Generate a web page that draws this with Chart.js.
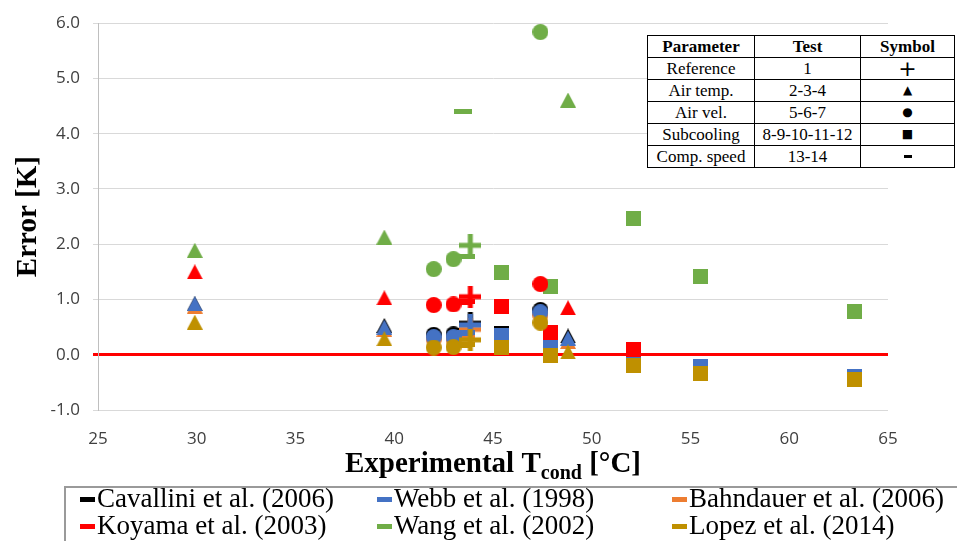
<!DOCTYPE html>
<html>
<head>
<meta charset="utf-8">
<script src="https://cdn.jsdelivr.net/npm/chart.js@4.4.1/dist/chart.umd.min.js"></script>
<style>
  html, body { margin: 0; padding: 0; background: #fff; }
  #wrap { position: relative; width: 957px; height: 541px; overflow: hidden; }
  #chart { position: absolute; left: 0; top: 0; }
  #param { position: absolute; left: 647px; top: 35px; border-collapse: collapse; background: #fff;
           font-family: "Liberation Serif", serif; font-size: 17px; color: #000; }
  #param td, #param th { border: 1px solid #000; padding: 0; height: 21px; line-height: 21px; text-align: center; }
  #param th { font-weight: bold; font-size: 17px; }
  #param td.sym { font-family: "DejaVu Sans", sans-serif; font-size: 12px; }
  #param td.sym.plus { font-size: 22px; }
  #param td.sym .dash { display: inline-block; width: 8px; height: 3px; background: #000; vertical-align: middle; }
  #legendBox { position: absolute; left: 64px; top: 486px; width: 910px; height: 70px;
               border: 2px solid #9a9a9a; box-sizing: border-box; }
  .item { position: absolute; white-space: nowrap; font-family: "Liberation Serif", serif;
          font-size: 27px; line-height: 28px; color: #000; }
  .item i { display: inline-block; width: 15px; height: 5px; vertical-align: middle; margin-right: 2px; position: relative; top: -1px; }
</style>
</head>
<body>
<div id="wrap">
  <canvas id="chart" width="957" height="541"></canvas>
  <table id="param"></table>
  <div id="legendBox"></div>
</div>
<script>
// condensing temperature of each test, and which symbol it gets
const testTcond  = [29.9, 39.5, 42.0, 43.0, 43.85, 43.5, 43.65, 45.45, 47.4, 47.9, 48.8, 52.1, 55.5, 63.3];
const testSymbol = ["triangle", "triangle", "circle", "circle", "plus", "minus", "minus",
                    "square", "circle", "square", "triangle", "square", "square", "square"];

// error [K] of each correlation, same order as testTcond
const cavallini = [0.92, 0.53, 0.36, 0.37, 0.57, 0.42, 0.44, 0.39, 0.81, 0.19, 0.34, -0.12, -0.22, -0.39];
const webb      = [0.92, 0.50, 0.32, 0.32, 0.54, 0.38, 0.40, 0.35, 0.77, 0.15, 0.30, -0.12, -0.22, -0.39];
const bahndauer = [0.88, 0.46, 0.28, 0.28, 0.46, 0.33, 0.35, 0.30, 0.72, 0.10, 0.24, -0.15, -0.26, -0.42];
const koyama    = [1.50, 1.03, 0.90, 0.91, 1.05, 0.95, 0.97, 0.88, 1.28, 0.40, 0.85, 0.09, -0.34, -0.44];
const wang      = [1.89, 2.13, 1.55, 1.73, 1.98, 4.40, 1.78, 1.48, 5.84, 1.24, 4.61, 2.47, 1.42, 0.79];
const lopez     = [0.59, 0.29, 0.13, 0.14, 0.27, 0.16, 0.19, 0.13, 0.58, -0.02, 0.05, -0.20, -0.34, -0.44];

const seriesNames  = ["Cavallini et al. (2006)", "Webb et al. (1998)", "Bahndauer et al. (2006)",
                      "Koyama et al. (2003)", "Wang et al. (2002)", "Lopez et al. (2014)"];
const seriesValues = [cavallini, webb, bahndauer, koyama, wang, lopez];
const seriesColors = ["#000000", "#4472C4", "#ED7D31", "#FF0000", "#70AD47", "#BF9000"];
const seriesLayer  = [5, 3, 4, 1, 2, 0];   // lower = drawn on top

const xTicks = [25, 30, 35, 40, 45, 50, 55, 60, 65];
const yTicks = [-1, 0, 1, 2, 3, 4, 5, 6];

const tableHead = ["Parameter", "Test", "Symbol"];
const tableRows = [
  ["Reference", "1", "+"],
  ["Air temp.", "2-3-4", "▲"],
  ["Air vel.", "5-6-7", "●"],
  ["Subcooling", "8-9-10-11-12", "■"],
  ["Comp. speed", "13-14", "-"]
];

// little bitmaps for the Excel-like markers
function marker(shape, color) {
  const size = { plus: [22, 22], minus: [18, 5], triangle: [16, 15], circle: [16, 16], square: [15, 15] }[shape];
  const c = document.createElement("canvas");
  c.width = size[0];
  c.height = size[1];
  const g = c.getContext("2d");
  const w = c.width, h = c.height;
  g.fillStyle = color;
  if (shape === "circle") {
    g.beginPath(); g.arc(w / 2, h / 2, w / 2, 0, Math.PI * 2); g.fill();
  } else if (shape === "triangle") {
    g.beginPath(); g.moveTo(w / 2, 0); g.lineTo(w, h); g.lineTo(0, h); g.closePath(); g.fill();
  } else if (shape === "plus") {
    g.fillRect(0, (h - 5) / 2, w, 5);
    g.fillRect((w - 5) / 2, 0, 5, h);
  } else {
    g.fillRect(0, 0, w, h);
  }
  return c;
}

const datasets = seriesNames.map((name, i) => ({
  label: name,
  data: testTcond.map((t, k) => ({ x: t, y: seriesValues[i][k] })),
  pointStyle: testSymbol.map(s => marker(s, seriesColors[i])),
  pointRadius: 8,
  backgroundColor: seriesColors[i],
  borderColor: seriesColors[i],
  order: seriesLayer[i]
}));

// x title with a subscript
const xTitle = {
  id: "xTitle",
  afterDraw(chart) {
    const ctx = chart.ctx;
    const a = chart.chartArea;
    const big = 'bold 29px "Liberation Serif"';
    const small = 'bold 20px "Liberation Serif"';
    const parts = [["Experimental T", big, 0], ["cond", small, 7], [" [°C]", big, 0]];
    ctx.save();
    ctx.fillStyle = "#000";
    ctx.textBaseline = "alphabetic";
    let total = 0;
    parts.forEach(p => { ctx.font = p[1]; total += ctx.measureText(p[0]).width; });
    let x = (a.left + a.right) / 2 - total / 2;
    parts.forEach(p => {
      ctx.font = p[1];
      ctx.fillText(p[0], x, 472 + p[2]);
      x += ctx.measureText(p[0]).width;
    });
    ctx.restore();
  }
};

const tickFont = { family: "Open Sans", size: 17 };

new Chart(document.getElementById("chart"), {
  type: "scatter",
  data: { datasets },
  options: {
    responsive: false,
    animation: false,
    events: [],
    layout: { padding: { top: 22, right: 69, bottom: 0, left: 0 } },
    plugins: { legend: { display: false }, tooltip: { enabled: false } },
    scales: {
      x: {
        type: "linear",
        min: xTicks[0],
        max: xTicks[xTicks.length - 1],
        afterFit: s => { s.height = 131; },
        afterBuildTicks: s => { s.ticks = xTicks.map(v => ({ value: v })); },
        ticks: { padding: 19, color: "#404040", font: tickFont },
        grid: { display: false, drawTicks: false },
        border: { display: false }
      },
      y: {
        min: yTicks[0],
        max: yTicks[yTicks.length - 1],
        afterFit: s => { s.width = 98; },
        afterBuildTicks: s => { s.ticks = yTicks.map(v => ({ value: v })); },
        ticks: { padding: 13, color: "#404040", font: tickFont, callback: v => v.toFixed(1) },
        grid: {
          tickLength: 5,
          color: c => c.tick && c.tick.value === 0 ? "#FF0000" : "#D9D9D9",
          lineWidth: c => c.tick && c.tick.value === 0 ? 3 : 1
        },
        border: { color: "#BFBFBF" },
        title: {
          display: true,
          text: "Error [K]",
          color: "#000",
          font: { family: "Liberation Serif", size: 29, weight: "bold" },
          padding: { top: 11, bottom: 0 }
        }
      }
    }
  },
  plugins: [xTitle]
});

// parameter table
const table = document.getElementById("param");
const widths = [107, 106, 94];
let html = "<colgroup>" + widths.map(w => `<col style="width:${w}px">`).join("") + "</colgroup>";
html += "<tr>" + tableHead.map(h => `<th>${h}</th>`).join("") + "</tr>";
tableRows.forEach(r => {
  const sym = r[2] === "-" ? '<span class="dash"></span>' : r[2];
  const cls = r[2] === "+" ? "sym plus" : "sym";
  html += `<tr><td>${r[0]}</td><td>${r[1]}</td><td class="${cls}">${sym}</td></tr>`;
});
table.innerHTML = html;

// legend, three columns by two rows
const wrap = document.getElementById("wrap");
const colX = [80, 377, 672];
const rowY = [484, 511];
seriesNames.forEach((name, i) => {
  const d = document.createElement("div");
  d.className = "item";
  d.style.left = colX[i % 3] + "px";
  d.style.top = rowY[Math.floor(i / 3)] + "px";
  d.innerHTML = `<i style="background:${seriesColors[i]}"></i>${name}`;
  wrap.appendChild(d);
});
</script>
</body>
</html>
